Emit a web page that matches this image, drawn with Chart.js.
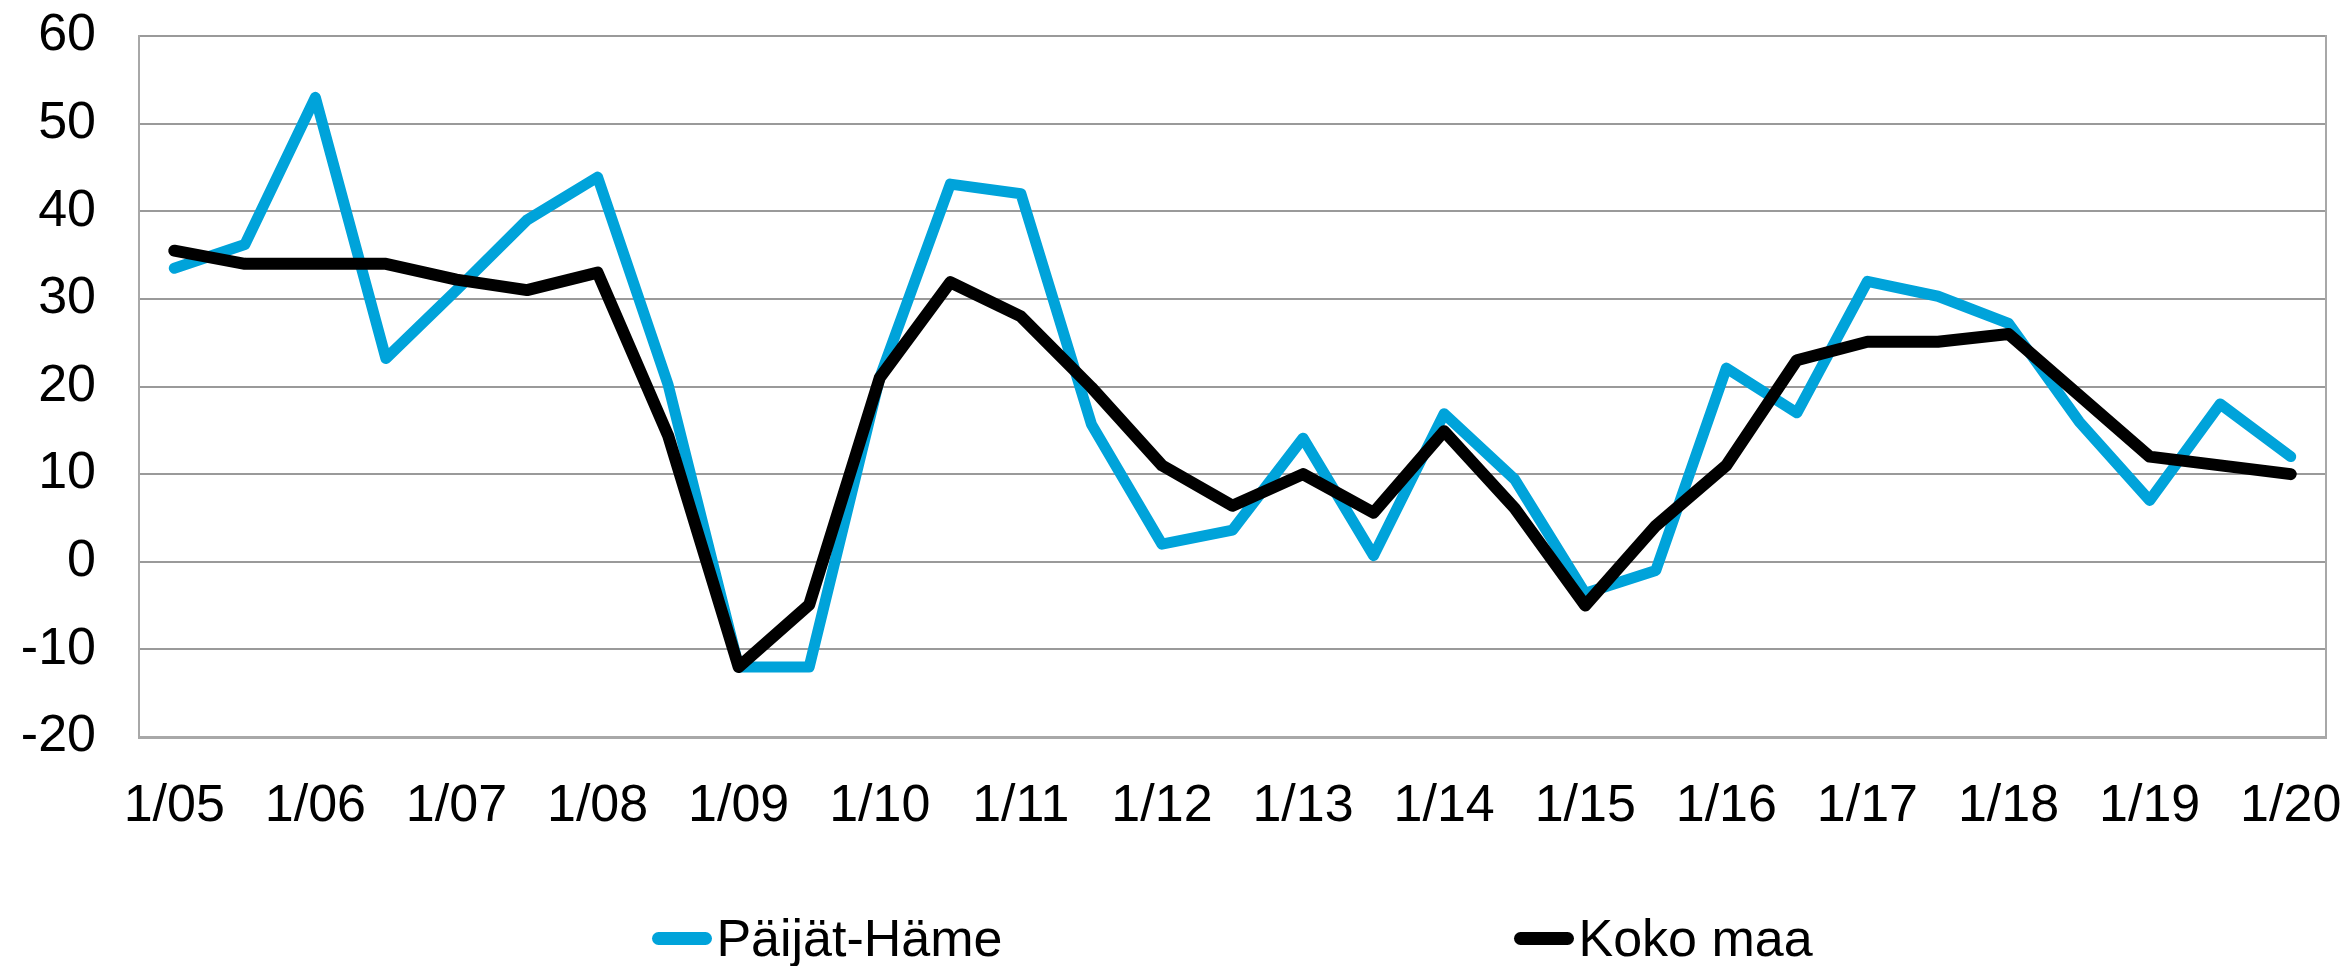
<!DOCTYPE html>
<html>
<head>
<meta charset="utf-8">
<script src="https://cdn.jsdelivr.net/npm/chart.js@4"></script>
<style>
  html, body { margin: 0; padding: 0; background: #fff; }
  #wrap { position: relative; width: 2346px; height: 966px; }
  #chart { display: block; }
  #legend { position: absolute; display: flex; justify-content: center; align-items: center;
            font-family: 'Liberation Sans', Arial, sans-serif; font-size: 52px; color: #000; }
  .item { display: flex; align-items: center; white-space: nowrap; }
  .sw { display: inline-block; width: 60px; height: 13px; border-radius: 6.5px; margin-right: 4px; }
</style>
</head>
<body>
<div id="wrap">
  <canvas id="chart" width="2346" height="966"></canvas>
  <div id="legend"></div>
</div>
<script>
const categories = ['1/05','7/05','1/06','7/06','1/07','7/07','1/08','7/08','1/09','7/09',
  '1/10','7/10','1/11','7/11','1/12','7/12','1/13','7/13','1/14','7/14',
  '1/15','7/15','1/16','7/16','1/17','7/17','1/18','7/18','1/19','7/19','1/20'];
const paijatHame = [33.5, 36.2, 53, 23.2, 31, 39, 43.9, 20.2, -12, -12,
  21, 43.1, 42, 15.7, 2, 3.6, 14.1, 0.7, 16.9, 9.4,
  -3.6, -1, 22.1, 17, 32, 30.3, 27.2, 16, 7, 18, 12];
const kokoMaa = [35.5, 34, 34, 34, 32.2, 31, 33, 14.4, -12, -4.9,
  21, 31.9, 28, 19.9, 11, 6.4, 10, 5.6, 14.9, 6.1,
  -5, 4.1, 11, 23, 25.1, 25.1, 26, 19, 12, 11, 10];
const seriesNames = ['Päijät-Häme', 'Koko maa'];
const yMin = -20, yMax = 60, yStep = 10;

const FONT = "'Liberation Sans', Arial, sans-serif";
const GRID = '#9a9a9a';
const BORDER = '#a8a8a8';
const BLUE = '#00a3da';

const htmlLegend = {
  id: 'htmlLegend',
  afterUpdate(chart) {
    const el = document.getElementById('legend');
    el.innerHTML = '';
    const items = Chart.defaults.plugins.legend.labels.generateLabels(chart)
      .sort((a, b) => a.datasetIndex - b.datasetIndex);
    const ca = chart.chartArea;
    el.style.left = ca.left + 'px';
    el.style.width = (ca.right - ca.left) + 'px';
    el.style.top = (938 - 31) + 'px';
    el.style.height = '62px';
    el.style.gap = '512px';
    items.forEach(it => {
      const d = document.createElement('div');
      d.className = 'item';
      const s = document.createElement('span');
      s.className = 'sw';
      s.style.background = it.strokeStyle;
      const t = document.createElement('span');
      t.textContent = it.text;
      d.appendChild(s); d.appendChild(t);
      el.appendChild(d);
    });
  }
};

new Chart(document.getElementById('chart'), {
  type: 'line',
  data: {
    labels: categories,
    datasets: [
      { label: seriesNames[0], data: paijatHame, borderColor: BLUE, backgroundColor: BLUE,
        borderWidth: 11, pointRadius: 0, tension: 0, borderCapStyle: 'round', borderJoinStyle: 'round', order: 1 },
      { label: seriesNames[1], data: kokoMaa, borderColor: '#000000', backgroundColor: '#000000',
        borderWidth: 12, pointRadius: 0, tension: 0, borderCapStyle: 'round', borderJoinStyle: 'round', order: 0 }
    ]
  },
  options: {
    responsive: false,
    animation: false,
    layout: { padding: { left: 0, right: 20, top: 36, bottom: 139 } },
    plugins: { legend: { display: false }, tooltip: { enabled: false } },
    scales: {
      x: {
        offset: true,
        grid: { display: false, drawTicks: false },
        border: { display: true, color: BORDER, width: 3 },
        ticks: {
          autoSkip: false, maxRotation: 0, minRotation: 0, padding: 38,
          color: '#000', font: { family: FONT, size: 52 },
          callback: function (v, i) { return i % 2 === 0 ? this.getLabelForValue(v) : ''; }
        },
        afterFit: s => { s.height = 90; s.paddingLeft = 0; s.paddingRight = 0; }
      },
      y: {
        min: yMin, max: yMax,
        grid: { color: GRID, lineWidth: 2, drawTicks: false },
        border: { display: true, color: BORDER, width: 2 },
        ticks: { stepSize: yStep, padding: 43, color: '#000', font: { family: FONT, size: 52 } },
        afterFit: s => { s.width = 139; s.paddingTop = 0; s.paddingBottom = 0; }
      },
      y2: {
        position: 'right', min: yMin, max: yMax,
        grid: { drawOnChartArea: false, drawTicks: false },
        border: { display: true, color: BORDER, width: 2 },
        ticks: { display: false },
        afterFit: s => { s.width = 0; s.paddingTop = 0; s.paddingBottom = 0; }
      }
    }
  },
  plugins: [htmlLegend]
});
</script>
</body>
</html>
